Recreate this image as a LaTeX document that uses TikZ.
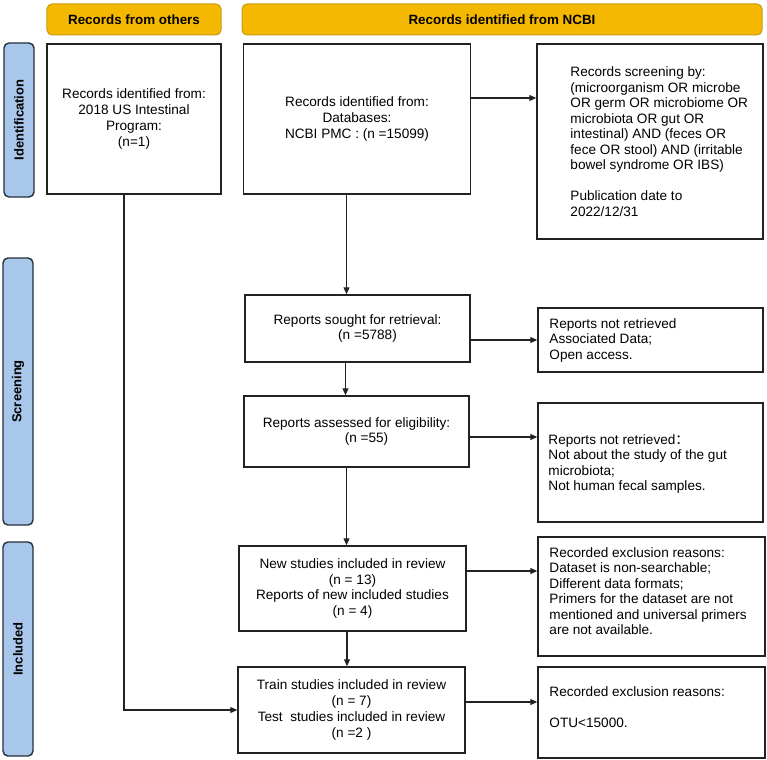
\documentclass[tikz,border=0pt]{standalone}
\usepackage{fontspec}
\setmainfont{Liberation Sans}
\newfontfamily\cjkfont{Noto Sans CJK SC}
\usetikzlibrary{arrows.meta}
\definecolor{hdrfill}{HTML}{F5B800}
\definecolor{hdrline}{HTML}{C99A10}
\definecolor{tabfill}{HTML}{A8C7EA}
\definecolor{tabline}{HTML}{26303C}
\definecolor{boxline}{HTML}{222222}
\begin{document}
\begin{tikzpicture}[x=1bp,y=-1bp,
  box/.style={draw=boxline, line width=1.5bp, inner sep=0pt, align=center,
    font=\fontsize{13.6bp}{15.8bp}\selectfont},
  lefttxt/.style={inner sep=0pt, align=left, anchor=west,
    font=\fontsize{13.6bp}{15.5bp}\selectfont},
  hdr/.style={draw=hdrline, fill=hdrfill, line width=1bp, rounded corners=5bp,
    inner sep=0pt, font=\bfseries\fontsize{13.4bp}{15bp}\selectfont},
  tabbox/.style={draw=tabline, fill=tabfill, line width=1.4bp, rounded corners=5bp,
    inner sep=0pt, rotate=90, minimum height=30bp,
    font=\bfseries\fontsize{13bp}{15bp}\selectfont},
  arr/.style={draw=boxline, line width=1.1bp, -{Triangle[length=7bp,width=6bp]}}
]
\useasboundingbox (0,0) rectangle (767,760);
\fill[white] (0,0) rectangle (767,760);

% headers
\node[hdr, minimum width=174bp, minimum height=31bp] (h1) at (134,19.5) {Records from others};
\node[hdr, minimum width=520bp, minimum height=31bp] (h2) at (502,19.5) {Records identified from NCBI};

% side tabs
\node[tabbox, minimum width=154bp] (t1) at (19,120) {Identification};
\node[tabbox, minimum width=267bp] (t2) at (18,391.5) {Screening};
\node[tabbox, minimum width=214bp] (t3) at (18,649) {Included};

% boxes
\node[box, minimum width=174bp, minimum height=150bp] (A) at (134,119)
  {Records identified from:\\2018 US Intestinal\\Program:\\(n=1)};
\node[box, minimum width=227bp, minimum height=150bp] (B) at (357,119)
  {Records identified from:\\Databases:\\NCBI PMC : (n =15099)};
\node[box, minimum width=226bp, minimum height=195bp] (C) at (650,141.5) {};
\node[lefttxt] (Ct) at ([xshift=34bp]C.west)
  {Records screening by:\\(microorganism OR microbe\\OR germ OR microbiome OR\\microbiota OR gut OR\\intestinal) AND (feces OR\\fece OR stool) AND (irritable\\bowel syndrome OR IBS)\\[15.5bp]Publication date to\\2022/12/31};

\node[box, minimum width=225bp, minimum height=67bp] (D) at (357.5,328.5)
  {Reports sought for retrieval:\\\hspace*{20bp}(n =5788)};
\node[box, minimum width=225bp, minimum height=64bp] (F) at (650.5,340) {};
\node[lefttxt] (Ft) at ([xshift=12bp]F.west)
  {Reports not retrieved\\Associated Data;\\Open access.};

\node[box, minimum width=225bp, minimum height=71bp] (E) at (356.5,431.5)
  {Reports assessed for eligibility:\\\hspace*{20bp}(n =55)};
\node[box, minimum width=225bp, minimum height=119bp] (G) at (650.5,462.5) {};
\node[lefttxt] (Gt) at ([xshift=11bp,yshift=-1.5bp]G.west)
  {Reports not retrieved{\cjkfont ：}\\Not about the study of the gut\\microbiota;\\Not human fecal samples.};

\node[box, minimum width=227bp, minimum height=85bp] (H) at (352.5,588.5)
  {New studies included in review\\(n = 13)\\Reports of new included studies\\(n = 4)};
\node[box, minimum width=227bp, minimum height=119bp] (I) at (651.5,596.5) {};
\node[lefttxt] (It) at ([xshift=12bp,yshift=5.5bp]I.west)
  {Recorded exclusion reasons:\\Dataset is non-searchable;\\Different data formats;\\Primers for the dataset are not\\mentioned and universal primers\\are not available.};

\node[box, minimum width=227bp, minimum height=86bp] (J) at (351.5,710)
  {Train studies included in review\\(n = 7)\\Test\ \ studies included in review\\(n =2 )};
\node[box, minimum width=227bp, minimum height=91bp] (K) at (651.5,712.5) {};
\node[lefttxt] (Kt) at ([xshift=12bp,yshift=5.5bp]K.west)
  {Recorded exclusion reasons:\\[15.5bp]OTU<15000.};

% connectors
\draw[arr] ([yshift=21bp]B.east) -- ([yshift=21bp]B.east -| C.west);
\draw[arr] ([xshift=-10.5bp]B.south) -- ([xshift=-10.5bp]B.south |- D.north);
\draw[arr] (D.east |- F.west) -- (F.west);
\draw[arr] ([xshift=-12bp]D.south) -- ([xshift=-12bp]D.south |- E.north);
\draw[arr] ([yshift=-5.5bp]E.east) -- ([yshift=-5.5bp]E.east -| G.west);
\draw[arr] ([xshift=-10bp]E.south) -- ([xshift=-10bp]E.south |- H.north);
\draw[arr] ([yshift=17.5bp]H.east) -- ([yshift=17.5bp]H.east -| I.west);
\draw[arr] ([xshift=-5.5bp]H.south) -- ([xshift=-5.5bp]H.south |- J.north);
\draw[arr] ([yshift=8bp]J.east) -- ([yshift=8bp]J.east -| K.west);
\draw[arr] ([xshift=-10bp]A.south) |- (J.west);
\end{tikzpicture}
\end{document}
